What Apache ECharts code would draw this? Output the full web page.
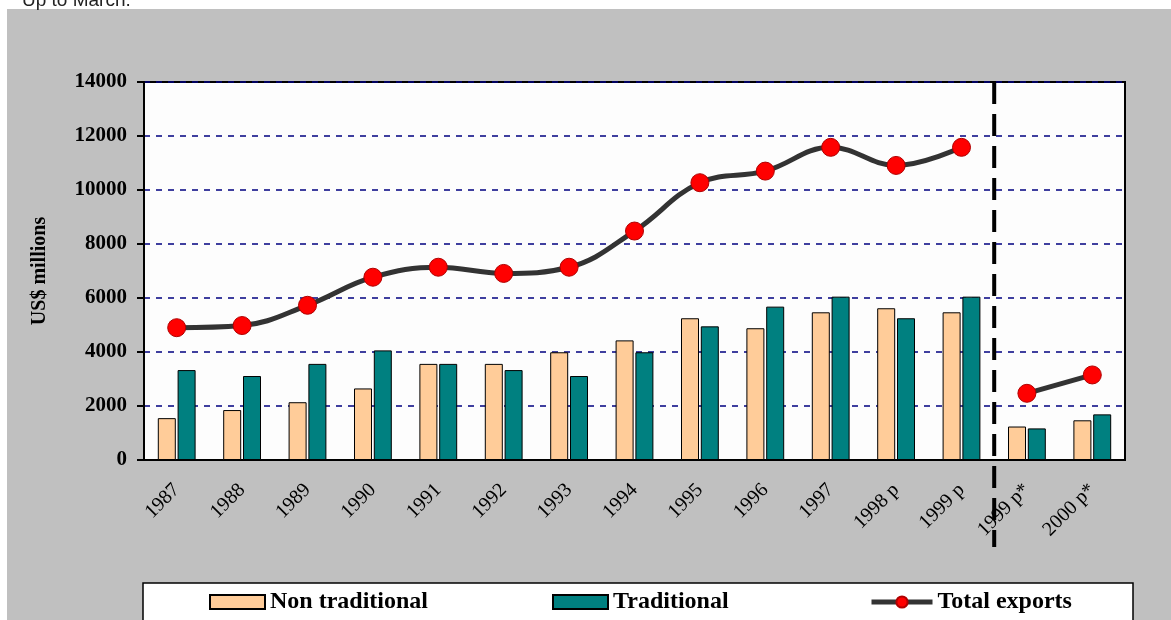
<!DOCTYPE html>
<html>
<head>
<meta charset="utf-8">
<script src="https://cdn.jsdelivr.net/npm/echarts@6/dist/echarts.min.js"></script>
<style>
  html, body { margin: 0; padding: 0; background: #fff; }
  #chart { width: 1171px; height: 620px; }
</style>
</head>
<body>
<div id="chart"></div>
<script>
const categories = ['1987', '1988', '1989', '1990', '1991', '1992', '1993', '1994', '1995', '1996', '1997', '1998 p', '1999 p', '1999 p*', '2000 p*']
const nonTraditional = [1550, 1850, 2140, 2650, 3560, 3560, 3990, 4430, 5250, 4880, 5470, 5620, 5470, 1240, 1470]
const traditional = [3330, 3110, 3560, 4060, 3560, 3330, 3110, 3990, 4950, 5680, 6050, 5250, 6050, 1170, 1690]
// annual totals, then the "up to March" part after the divider
const totalAnnual = [4900, 4980, 5730, 6770, 7140, 6910, 7140, 8480, 10270, 10700, 11580, 10910, 11580, '-', '-']
const totalMarch = ['-', '-', '-', '-', '-', '-', '-', '-', '-', '-', '-', '-', '-', 2470, 3150]
const yTicks = { min: 0, max: 14000, interval: 2000 }

const serif = '"Liberation Serif", "Times New Roman", serif'
const chart = echarts.init(document.getElementById('chart'))

const legendText = { fontFamily: serif, fontWeight: 'bold', fontSize: 24, color: '#000' }
const legendCommon = {
  top: 590,
  padding: 0,
  itemWidth: 55,
  itemHeight: 14,
  itemGap: 4,
  textStyle: legendText
}

const option = {
  backgroundColor: '#c0c0c0',
  animation: false,
  graphic: {
    elements: [
      { id: 'topStrip', type: 'rect', shape: { x: 0, y: 0, width: 1171, height: 9 }, style: { fill: '#fff' } },
      { id: 'leftStrip', type: 'rect', shape: { x: 0, y: 0, width: 7, height: 620 }, style: { fill: '#fff' } },
      { id: 'note', type: 'text', left: 22, top: -9, style: { text: 'Up to March.', fontSize: 19, fontFamily: '"Liberation Sans", Arial, sans-serif', fill: '#222' } },
      { id: 'legendBox', type: 'rect', shape: { x: 143, y: 583, width: 990, height: 50 }, style: { fill: '#fff', stroke: '#000', lineWidth: 1.5 } }
    ]
  },
  grid: {
    left: 144,
    right: 46,
    top: 82,
    bottom: 160,
    show: true,
    backgroundColor: '#fdfdfd',
    borderColor: '#000',
    borderWidth: 2
  },
  legend: [
    Object.assign({}, legendCommon, { data: [{ name: 'Non traditional', icon: 'rect' }], left: 209 }),
    Object.assign({}, legendCommon, { data: [{ name: 'Traditional', icon: 'rect' }], left: 552 }),
    Object.assign({}, legendCommon, {
      data: ['Total exports'],
      left: 869,
      itemWidth: 61,
      lineStyle: { width: 5, color: '#333' }
    })
  ],
  xAxis: {
    type: 'category',
    data: categories,
    axisLine: { lineStyle: { color: '#000', width: 2 } },
    axisTick: { length: 7, lineStyle: { color: '#000', width: 2 } },
    axisLabel: {
      interval: 0,
      rotate: 45,
      margin: 27,
      fontFamily: serif,
      fontSize: 20,
      color: '#000'
    }
  },
  yAxis: {
    type: 'value',
    min: yTicks.min,
    max: yTicks.max,
    interval: yTicks.interval,
    name: 'US$ millions',
    nameLocation: 'middle',
    nameGap: 94,
    nameTextStyle: { fontFamily: serif, fontWeight: 'bold', fontSize: 20, color: '#000' },
    axisLine: { show: true, lineStyle: { color: '#000', width: 2 } },
    axisTick: { show: true, length: 7, lineStyle: { color: '#000', width: 2 } },
    axisLabel: {
      margin: 17,
      fontFamily: serif,
      fontWeight: 'bold',
      fontSize: 21,
      color: '#000',
      formatter: v => String(v)
    },
    splitLine: { lineStyle: { color: '#000080', type: [6, 6], width: 1.5 } }
  },
  series: [
    {
      name: 'Non traditional',
      type: 'bar',
      data: nonTraditional,
      barWidth: 18,
      barGap: '10%',
      itemStyle: { color: '#ffcc99', borderColor: '#000', borderWidth: 1 }
    },
    {
      name: 'Traditional',
      type: 'bar',
      data: traditional,
      barWidth: 18,
      itemStyle: { color: '#008080', borderColor: '#000', borderWidth: 1 }
    },
    {
      name: 'Total exports',
      type: 'line',
      data: totalAnnual,
      smooth: 0.4,
      symbol: 'circle',
      symbolSize: 18,
      lineStyle: { color: '#333', width: 5 },
      itemStyle: { color: '#ff0000', borderColor: '#b00000', borderWidth: 1 },
      z: 5
    },
    {
      name: 'Total exports',
      type: 'line',
      data: totalMarch,
      smooth: 0.4,
      symbol: 'circle',
      symbolSize: 18,
      lineStyle: { color: '#333', width: 5 },
      itemStyle: { color: '#ff0000', borderColor: '#b00000', borderWidth: 1 },
      z: 5
    }
  ]
}
chart.setOption(option)

// dashed divider between the annual and "up to March" categories
const xa = chart.convertToPixel({ xAxisIndex: 0 }, 12)
const xb = chart.convertToPixel({ xAxisIndex: 0 }, 13)
const xDiv = (xa + xb) / 2
const yTop = chart.convertToPixel({ yAxisIndex: 0 }, yTicks.max)
chart.setOption({
  graphic: {
    elements: [
      {
        id: 'divider',
        type: 'line',
        z: 10,
        shape: { x1: xDiv, y1: yTop, x2: xDiv, y2: yTop + 465 },
        style: { stroke: '#000', lineWidth: 4, lineDash: [22, 10] }
      }
    ]
  }
})
</script>
</body>
</html>
